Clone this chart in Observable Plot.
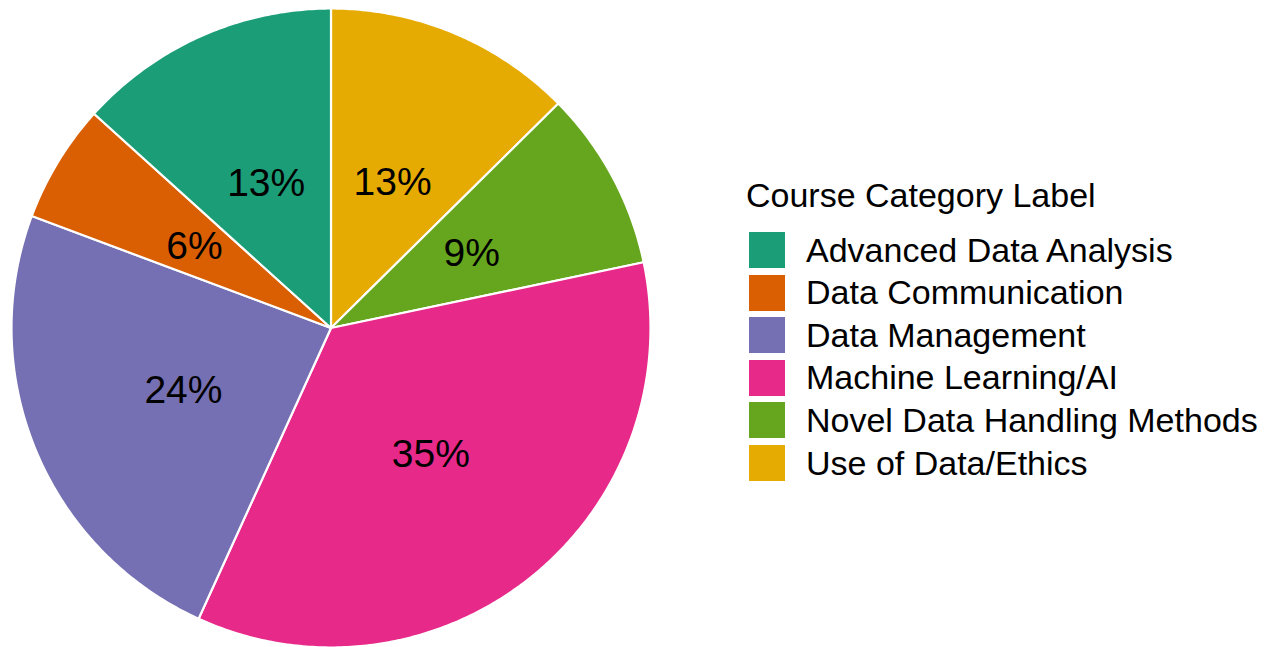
<!DOCTYPE html>
<html>
<head>
<meta charset="utf-8">
<script src="https://cdn.jsdelivr.net/npm/d3@7"></script>
<script src="https://cdn.jsdelivr.net/npm/@observablehq/plot@0.6"></script>
<style>
  html, body { margin: 0; padding: 0; background: #fff; }
  #wrap { position: relative; width: 1268px; height: 647px; overflow: hidden; font-family: "Liberation Sans", Arial, Helvetica, sans-serif; }
  #wrap svg { position: absolute; left: 0; top: 0; }
  .lg-title { position: absolute; left: 746px; top: 178px; font-size: 34px; line-height: 34px; color: #000; white-space: nowrap; }
  .lg-sw { position: absolute; left: 749px; width: 36px; height: 36px; }
  .lg-lab { position: absolute; left: 806px; font-size: 34px; line-height: 34px; color: #000; white-space: nowrap; }
</style>
</head>
<body>
<div id="wrap"></div>
<script>
// Legend order of categories
const categories = [
  "Advanced Data Analysis",
  "Data Communication",
  "Data Management",
  "Machine Learning/AI",
  "Novel Data Handling Methods",
  "Use of Data/Ethics"
];
// Share of courses (percent)
const shares = [13.3, 6.0, 23.9, 35.1, 9.1, 12.6];
// Order of slices clockwise from 12 o'clock
const sliceOrder = [
  "Use of Data/Ethics",
  "Novel Data Handling Methods",
  "Machine Learning/AI",
  "Data Management",
  "Data Communication",
  "Advanced Data Analysis"
];
const palette = ["#1B9E77", "#D95F02", "#7570B3", "#E7298A", "#66A61E", "#E6AB02"];
const legendTitle = "Course Category Label";

const table = sliceOrder.map(c => ({cat: c, value: shares[categories.indexOf(c)]}));
const total = d3.sum(table, d => d.value);
const arcs = d3.pie().sort(null).value(d => d.value)(table);

// polygon points for each slice (unit circle, angle clockwise from north)
const pts = [];
arcs.forEach(a => {
  const cat = a.data.cat;
  pts.push({cat, x: 0, y: 0});
  const n = Math.max(2, Math.ceil((a.endAngle - a.startAngle) / 0.01));
  for (let i = 0; i <= n; i++) {
    const t = a.startAngle + (a.endAngle - a.startAngle) * i / n;
    pts.push({cat, x: Math.sin(t), y: Math.cos(t)});
  }
});
const labels = arcs.map(a => {
  const m = (a.startAngle + a.endAngle) / 2;
  return {cat: a.data.cat, x: 0.5 * Math.sin(m), y: 0.5 * Math.cos(m),
          text: Math.round(a.data.value / total * 100) + "%"};
});

const chart = Plot.plot({
  width: 1268,
  height: 647,
  margin: 0,
  x: {domain: [-1, 1], range: [11, 650], axis: null},
  y: {domain: [-1, 1], range: [647, 8], axis: null},
  color: {domain: categories, range: palette},
  style: {fontFamily: "'Liberation Sans', Arial, Helvetica, sans-serif", background: "white"},
  marks: [
    Plot.line(pts, {x: "x", y: "y", z: "cat", fill: "cat", stroke: "white", strokeWidth: 2.2, curve: "linear-closed", strokeLinejoin: "round"}),
    Plot.text(labels, {x: "x", y: "y", text: "text", fill: "black", fontSize: 39, textAnchor: "middle", dy: 1.5})
  ]
});

const wrap = document.getElementById("wrap");
wrap.appendChild(chart);
const colorScale = chart.scale("color");

const title = document.createElement("div");
title.className = "lg-title";
title.textContent = legendTitle;
wrap.appendChild(title);

categories.forEach((c, i) => {
  const top = 232 + i * 42.6;
  const sw = document.createElement("div");
  sw.className = "lg-sw";
  sw.style.top = top + "px";
  sw.style.background = colorScale.range[colorScale.domain.indexOf(c)];
  wrap.appendChild(sw);
  const lab = document.createElement("div");
  lab.className = "lg-lab";
  lab.style.top = (top + 0.5) + "px";
  lab.textContent = c;
  wrap.appendChild(lab);
});
</script>
</body>
</html>
